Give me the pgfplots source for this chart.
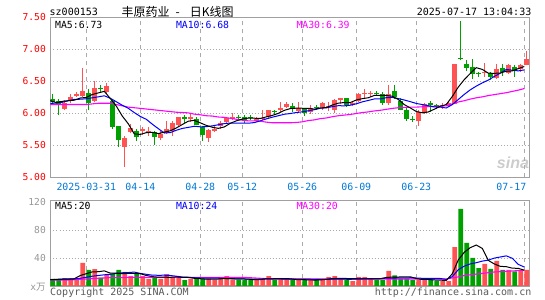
\documentclass[border=0pt]{standalone}
\usepackage{pgfplots}
\pgfplotsset{compat=1.18}
\usepackage{pgfplotstable}
\usepackage{fontspec}
\setmainfont{DejaVu Sans Mono}
\setmonofont{DejaVu Sans Mono}
\newfontfamily\cjk{Noto Sans CJK SC}
\newfontfamily\logofont{Liberation Sans}

\definecolor{kred}{RGB}{255,82,82}
\definecolor{kgreen}{RGB}{0,160,0}
\definecolor{gridc}{RGB}{170,170,170}
\definecolor{framec}{RGB}{160,160,160}
\definecolor{datec}{RGB}{0,120,215}
\definecolor{mablue}{RGB}{0,0,255}
\definecolor{mapink}{RGB}{255,0,255}
\definecolor{volc}{RGB}{150,150,150}
\definecolor{footc}{RGB}{90,90,90}

\newcommand\fs[1]{\fontsize{#1}{#1}\selectfont}

% day index (0 = 2025-03-21), open, high, low, close, volume (x10k)
\pgfplotstableread{
i O H L C V
2 6.07 6.21 6.06 6.17 11
3 6.19 6.30 6.16 6.255 11
4 6.28 6.33 6.26 6.31 10
5 6.275 6.71 6.25 6.35 33
7 6.20 6.50 6.18 6.40 24
9 6.33 6.47 6.31 6.43 16
12 5.48 5.645 5.17 5.615 20
13 5.71 5.84 5.69 5.78 14
15 5.72 5.79 5.66 5.75 14
16 5.71 5.79 5.645 5.72 10
18 5.62 5.725 5.58 5.68 10
19 5.70 5.88 5.68 5.755 17
20 5.73 5.88 5.645 5.855 13
21 5.82 5.95 5.80 5.94 13
23 5.91 6.01 5.865 5.94 10
26 5.61 5.765 5.56 5.74 10
27 5.73 5.80 5.71 5.765 9
28 5.80 5.88 5.765 5.855 10.5
29 5.87 5.95 5.855 5.93 14
30 5.915 6.00 5.905 5.945 9
34 5.89 5.95 5.86 5.92 10
35 5.92 6.05 5.905 5.935 10
36 5.95 6.06 5.92 6.05 14
38 6.05 6.18 6.025 6.09 10
39 6.105 6.18 6.08 6.155 10
41 6.04 6.18 6.01 6.08 8.5
43 6.025 6.125 5.99 6.09 8.5
45 6.105 6.18 6.06 6.165 9.5
46 6.10 6.18 6.04 6.11 12.5
47 6.06 6.23 6.00 6.21 14
48 6.21 6.24 6.155 6.24 10
50 6.13 6.18 6.115 6.165 7
51 6.20 6.32 6.18 6.31 12.5
52 6.31 6.375 6.245 6.315 12.5
53 6.305 6.355 6.26 6.31 10
56 6.165 6.45 6.13 6.31 21.5
61 5.875 6.06 5.81 6.03 8.5
62 6.005 6.165 5.995 6.15 8.5
65 6.115 6.165 6.07 6.135 7
66 6.115 6.175 6.10 6.165 7
67 6.15 6.78 6.15 6.78 55.5
72 6.64 6.785 6.57 6.645 31.5
74 6.555 6.775 6.545 6.69 36
76 6.635 6.775 6.62 6.75 23
78 6.70 6.775 6.655 6.75 23
79 6.76 6.97 6.75 6.855 23
}\redK

\pgfplotstableread{
i O H L C V
0 6.23 6.31 6.13 6.18 10
1 6.19 6.22 5.97 6.125 10
6 6.32 6.375 6.05 6.17 23
8 6.39 6.44 6.33 6.38 12
10 6.20 6.22 5.765 5.79 17
11 5.80 5.81 5.47 5.58 23
14 5.72 5.765 5.57 5.64 17
17 5.71 5.73 5.515 5.64 12
22 5.95 5.975 5.855 5.91 8.5
24 5.92 5.94 5.815 5.82 10.5
25 5.79 5.80 5.57 5.66 10
31 5.945 5.975 5.895 5.93 9
32 5.945 5.975 5.855 5.905 8.5
33 5.935 5.975 5.895 5.93 8.5
37 6.025 6.05 5.975 6.02 9
40 6.12 6.16 6.02 6.07 8.5
42 6.065 6.09 5.96 6.015 8.5
44 6.095 6.125 6.06 6.085 8.5
49 6.235 6.245 6.10 6.13 8.5
54 6.315 6.345 6.28 6.31 8.5
55 6.31 6.34 6.13 6.165 8.5
57 6.35 6.45 6.23 6.25 15
58 6.19 6.245 6.05 6.06 10.5
59 6.06 6.08 5.885 5.91 10.5
60 5.92 5.96 5.87 5.905 8.5
63 6.165 6.19 6.03 6.125 10.5
64 6.13 6.15 6.065 6.125 7
68 6.87 7.44 6.83 6.86 110
69 6.775 6.84 6.67 6.71 61.5
70 6.72 6.855 6.54 6.615 40
71 6.62 6.655 6.57 6.615 25.5
73 6.63 6.655 6.53 6.57 24.5
75 6.71 6.775 6.59 6.645 23
77 6.725 6.75 6.57 6.67 21
}\greenK

% moving averages as drawn (price and volume)
\pgfplotstableread{
i m5 m10 m30 v5 v10 v30
0 6.200 6.155 6.14 9 9 8.6
1 6.170 6.165 6.14 9.5 9 8.6
2 6.190 6.175 6.14 10 9.5 8.6
3 6.200 6.200 6.14 10 9.5 8.6
4 6.208 6.220 6.14 10.4 10 9
5 6.242 6.223 6.14 15 11 9.5
6 6.251 6.230 6.14 17.6 12.5 10
7 6.297 6.245 6.15 20.2 14 10.5
8 6.322 6.260 6.16 20.4 15 11
9 6.346 6.277 6.16 21.6 16 11.5
10 6.234 6.238 6.16 18.4 16.7 12
11 6.116 6.184 6.14 18.4 18 12
12 5.959 6.128 6.12 17.6 18.9 12
13 5.839 6.081 6.10 18 19.2 12.4
14 5.681 6.014 6.09 18.2 19.9 12.4
15 5.673 5.954 6.08 17.6 18 12.4
16 5.701 5.909 6.07 15 16.7 12.4
17 5.706 5.833 6.06 13.4 15.5 12.4
18 5.686 5.763 6.05 12.6 15.3 12.4
19 5.709 5.695 6.04 12.6 15.4 12.4
20 5.730 5.702 6.03 12.4 15 12.4
21 5.774 5.738 6.02 13 14 12.4
22 5.828 5.767 6.015 12.3 12.85 12.4
23 5.880 5.783 6.01 12.3 12.45 12.4
24 5.893 5.801 5.99 11 11.8 12.4
25 5.854 5.792 5.98 10.4 11.4 12.4
26 5.814 5.794 5.965 9.8 11.4 12.4
27 5.785 5.807 5.96 9.9 11.1 12.4
28 5.768 5.824 5.945 10 11.15 12.4
29 5.790 5.842 5.94 10.7 10.85 12.4
30 5.847 5.851 5.925 10.5 10.45 12.4
31 5.885 5.850 5.91 10.3 10.05 12.4
32 5.913 5.849 5.895 10.2 10.05 12.4
33 5.928 5.848 5.885 9.8 9.9 12
34 5.926 5.858 5.885 9 9.85 11.5
35 5.923 5.885 5.88 9.2 9.85 11
36 5.947 5.916 5.865 10.2 10.25 10.5
37 5.970 5.942 5.855 10.3 10.25 10
38 6.002 5.965 5.855 10.6 10.2 10
39 6.049 5.988 5.855 10.6 9.8 10
40 6.077 6.000 5.855 10.3 9.75 10
41 6.083 6.015 5.86 9.2 9.7 10
42 6.082 6.026 5.87 9.1 9.7 10
43 6.082 6.042 5.89 8.8 9.7 10
44 6.068 6.059 5.90 8.5 9.55 10
45 6.087 6.082 5.92 8.7 9.5 10
46 6.093 6.088 5.93 9.5 9.35 10
47 6.132 6.107 5.95 10.6 9.85 10
48 6.162 6.122 5.965 10.9 9.85 10
49 6.171 6.120 5.975 10.9 9.7 10
50 6.171 6.129 5.985 10.4 9.55 10
51 6.211 6.152 6.00 10.4 9.95 10
52 6.232 6.182 6.015 10.1 10.35 10
53 6.246 6.204 6.025 10.1 10.5 10
54 6.282 6.227 6.04 10.1 10.5 10
55 6.282 6.227 6.05 10.4 10.4 10
56 6.282 6.247 6.065 12.2 11.3 10
57 6.269 6.251 6.08 12.7 11.4 10
58 6.219 6.233 6.09 12.8 11.45 10
59 6.139 6.211 6.095 13.2 11.65 10
60 6.087 6.185 6.10 13.2 11.8 10
61 6.031 6.157 6.10 10.6 11.4 10
62 6.011 6.140 6.105 9.3 11 10
63 6.024 6.122 6.11 9.3 11.05 10
64 6.067 6.103 6.11 8.6 10.9 10
65 6.113 6.100 6.115 8.3 10.75 10
66 6.140 6.086 6.12 8 9.3 10
67 6.266 6.139 6.15 17.4 13.35 11.5
68 6.413 6.219 6.18 37.3 23.3 13
69 6.530 6.299 6.20 48.2 28.4 15
70 6.626 6.370 6.225 54.8 31.55 16
71 6.716 6.428 6.245 58.5 33.25 17
72 6.689 6.478 6.26 53.7 35.55 18
73 6.631 6.522 6.28 36.6 36.95 19
74 6.627 6.579 6.295 31.5 39.85 20
75 6.633 6.630 6.31 28.1 41.45 20.5
76 6.660 6.688 6.325 27.6 43.05 21
77 6.665 6.677 6.345 25.5 39.6 21.5
78 6.701 6.666 6.365 25.2 30.9 22
79 6.734 6.681 6.39 22.6 27.05 22.5
}\maK

\pgfplotsset{
  kpanel/.style={
    scale only axis, width=479bp, anchor=south west,
    xmin=-0.37, xmax=79.47,
    axis line style={draw=framec, line width=1.2bp},
    tick style={draw=none},
    xtick={5.6,14.6,24.6,31.6,41.6,50.6,60.6,78.6},
    xmajorgrids, ymajorgrids,
    x grid style={gridc, line width=0.9bp, dash pattern=on 4bp off 4bp},
    y grid style={gridc, line width=0.9bp, dash pattern=on 1bp off 2bp},
    yticklabel style={font=\fs{9.6bp}, anchor=east, inner sep=0pt, xshift=-4.5bp},
  },
  wick/.style={draw=none, mark=none, forget plot,
    error bars/.cd, y dir=plus, y explicit, error mark=none,
    error bar style={draw=#1, solid, line width=1bp}},
  body/.style={draw=none, mark=none, forget plot,
    error bars/.cd, y dir=plus, y explicit, error mark=none,
    error bar style={draw=#1, solid, line width=4.8bp}},
}

\begin{document}
\begin{tikzpicture}
\path[use as bounding box] (0,0) rectangle (545bp,300bp);

% header
\node[anchor=west, inner sep=0pt] at (49.5bp,288bp) {\fs{10bp}sz000153};
\node[anchor=west, inner sep=0pt] at (121.5bp,288.5bp) {\cjk\fs{12bp}丰原药业\hspace{6bp}-\hspace{10bp}日K线图};
\node[anchor=east, inner sep=0pt] at (531.5bp,288bp) {\fs{10bp}2025-07-17 13:04:33};

% watermark
\node[inner sep=0pt, text=black!20] at (513bp,137bp) {\logofont\bfseries\itshape\fs{16bp}sina};

% price panel
\begin{axis}[kpanel, at={(50.5bp,122.5bp)}, height=160bp,
  ymin=5, ymax=7.5,
  ytick={5,5.5,6,6.5,7,7.5},
  yticklabels={5.00,5.50,6.00,6.50,7.00,7.50},
  yticklabel style={text=red},
  xticklabels={2025-03-31,04-14,04-28,05-12,05-26,06-09,06-23,\makebox[4bp][r]{07-17}},
  xticklabel style={font=\fs{9.9bp}, text=datec, anchor=base, inner sep=0pt, yshift=-13bp},
]
\addplot[wick=kred]  table[x=i, y=L, y error plus expr=\thisrow{H}-\thisrow{L}]{\redK};
\addplot[body=kred]  table[x=i, y=O, y error plus expr={max(\thisrow{C}-\thisrow{O},0.014)}]{\redK};
\addplot[wick=kgreen] table[x=i, y=L, y error plus expr=\thisrow{H}-\thisrow{L}]{\greenK};
\addplot[body=kgreen] table[x=i, y=C, y error plus expr={max(\thisrow{O}-\thisrow{C},0.014)}]{\greenK};
\addplot[mapink, line width=1.1bp, mark=none] table[x expr=\thisrow{i}-0.4, y=m30]{\maK};
\addplot[mablue, line width=1bp, mark=none] table[x expr=\thisrow{i}-0.4, y=m10]{\maK};
\addplot[black, line width=1bp, mark=none] table[x expr=\thisrow{i}-0.4, y=m5]{\maK};
\end{axis}

\node[anchor=west, inner sep=0pt] at (55bp,275bp) {\fs{9.8bp}MA5:6.73};
\node[anchor=west, inner sep=0pt, text=mablue] at (175.8bp,275bp) {\fs{9.8bp}MA10:6.68};
\node[anchor=west, inner sep=0pt, text=mapink] at (296.3bp,275bp) {\fs{9.8bp}MA30:6.39};

% volume panel
\begin{axis}[kpanel, at={(50.5bp,14bp)}, height=85.4bp,
  ymin=0, ymax=122,
  ytick={40,80}, yticklabels={40,80},
  extra y ticks={120}, extra y tick labels={120},
  extra y tick style={grid=none},
  yticklabel style={text=volc},
  xticklabels={},
]
\addplot[ybar, bar width=4.8bp, bar shift=0pt, fill=kred, draw=none, forget plot] table[x=i, y=V]{\redK};
\addplot[ybar, bar width=4.8bp, bar shift=0pt, fill=kgreen, draw=none, forget plot] table[x=i, y=V]{\greenK};
\addplot[mapink, line width=1.1bp, mark=none] table[x expr=\thisrow{i}-0.4, y=v30]{\maK};
\addplot[mablue, line width=1bp, mark=none] table[x expr=\thisrow{i}-0.4, y=v10]{\maK};
\addplot[black, line width=1bp, mark=none] table[x expr=\thisrow{i}-0.4, y=v5]{\maK};
\end{axis}

\node[anchor=west, inner sep=0pt] at (55bp,93.7bp) {\fs{9.8bp}MA5:20};
\node[anchor=west, inner sep=0pt, text=mablue] at (175.8bp,93.7bp) {\fs{9.8bp}MA10:24};
\node[anchor=west, inner sep=0pt, text=mapink] at (296.3bp,93.7bp) {\fs{9.8bp}MA30:20};
\node[anchor=east, inner sep=0pt, text=volc] at (46bp,13bp) {\fs{9.6bp}x{\cjk 万}};

% footer
\node[anchor=west, inner sep=0pt, text=footc] at (50bp,7.5bp) {\fs{10bp}Copyright 2025 SINA.COM};
\node[anchor=east, inner sep=0pt, text=footc] at (531.5bp,7.5bp) {\fs{10bp}http://finance.sina.com.cn};
\end{tikzpicture}
\end{document}
